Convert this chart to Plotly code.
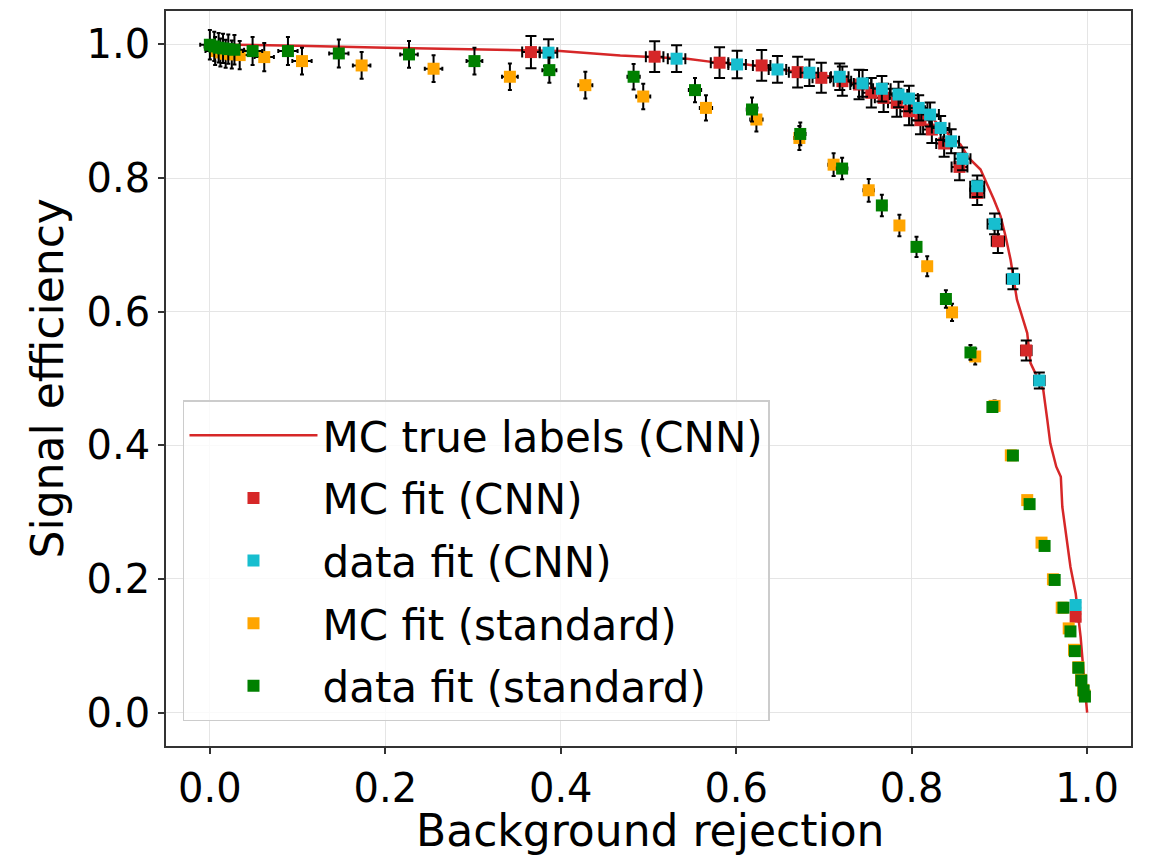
import plotly.graph_objects as go

# MC true labels (CNN) ROC curve
roc_x = [0.0, 0.034, 0.10, 0.2016, 0.308, 0.331, 0.3993, 0.4678, 0.544, 0.574, 0.612, 0.650,
         0.688, 0.707, 0.745, 0.783, 0.821, 0.840, 0.8557, 0.865, 0.8785, 0.883, 0.8937, 0.9013,
         0.907, 0.9127, 0.918, 0.920, 0.927, 0.9317, 0.9355, 0.950, 0.9546, 0.958, 0.9648, 0.970,
         0.9717, 0.9755, 0.981, 0.987, 0.9926, 0.997, 1.0]
roc_y = [1.0, 0.9995, 0.998, 0.995, 0.9925, 0.9915, 0.990, 0.9835, 0.9786, 0.9735, 0.970, 0.9625,
         0.955, 0.952, 0.9375, 0.9226, 0.8926, 0.8677, 0.850, 0.830, 0.8127, 0.800, 0.768, 0.743,
         0.713, 0.678, 0.638, 0.618, 0.588, 0.568, 0.523, 0.483, 0.438, 0.403, 0.368, 0.353,
         0.308, 0.268, 0.218, 0.178, 0.113, 0.043, 0.0]

# MC fit (CNN)
mc_cnn_x = [0.366, 0.507, 0.581, 0.629, 0.670, 0.697, 0.721, 0.740, 0.754, 0.768, 0.783, 0.797,
            0.810, 0.823, 0.837, 0.8545, 0.8747, 0.8983, 0.9306, 0.9869]
mc_cnn_y = [0.9885, 0.9816, 0.9726, 0.9685, 0.9585, 0.950, 0.945, 0.940, 0.9276, 0.920, 0.9126,
            0.900, 0.8866, 0.8726, 0.8517, 0.8167, 0.7778, 0.7054, 0.542, 0.1435]
mc_cnn_yerr = [0.024, 0.023, 0.023, 0.023, 0.023, 0.0225, 0.022, 0.022, 0.022, 0.021, 0.021, 0.021,
               0.021, 0.020, 0.020, 0.020, 0.018, 0.0175, 0.015, 0.004]
mc_cnn_xerr = [0.010, 0.010, 0.010, 0.010, 0.010, 0.010, 0.010, 0.010, 0.010, 0.010, 0.010, 0.010,
               0.010, 0.010, 0.009, 0.009, 0.008, 0.007, 0.006, 0.003]

# data fit (CNN)
data_cnn_x = [0.386, 0.532, 0.601, 0.647, 0.6834, 0.718, 0.744, 0.766, 0.785, 0.797, 0.808, 0.821,
              0.833, 0.845, 0.858, 0.8747, 0.8945, 0.9154, 0.9455, 0.9869]
data_cnn_y = [0.9876, 0.9786, 0.970, 0.9625, 0.9576, 0.9516, 0.9416, 0.9336, 0.925, 0.919, 0.905,
              0.895, 0.875, 0.855, 0.8288, 0.7877, 0.7314, 0.649, 0.497, 0.161]
data_cnn_yerr = [0.020, 0.020, 0.0205, 0.020, 0.020, 0.020, 0.020, 0.019, 0.019, 0.019, 0.019, 0.018,
                 0.018, 0.018, 0.017, 0.016, 0.0155, 0.0155, 0.012, 0.004]
data_cnn_xerr = [0.010, 0.010, 0.010, 0.010, 0.010, 0.010, 0.010, 0.010, 0.010, 0.010, 0.010, 0.010,
                 0.010, 0.009, 0.009, 0.008, 0.008, 0.007, 0.006, 0.003]

# MC fit (standard)
mc_std_x = [0.006, 0.012, 0.018, 0.025, 0.034, 0.062, 0.105, 0.173, 0.255, 0.342, 0.428, 0.494,
            0.5655, 0.623, 0.672, 0.711, 0.751, 0.786, 0.8177, 0.846, 0.8724, 0.8945, 0.913, 0.9317,
            0.948, 0.961, 0.971, 0.979, 0.985, 0.990, 0.993, 0.9955, 0.997]
mc_std_y = [0.990, 0.988, 0.986, 0.985, 0.984, 0.981, 0.975, 0.9685, 0.9636, 0.9516, 0.939, 0.922,
            0.905, 0.8876, 0.860, 0.820, 0.7817, 0.729, 0.668, 0.599, 0.533, 0.459, 0.385, 0.318,
            0.2544, 0.1995, 0.157, 0.126, 0.094, 0.068, 0.049, 0.034, 0.026]
mc_std_yerr = [0.021, 0.021, 0.021, 0.021, 0.021, 0.021, 0.020, 0.020, 0.020, 0.020, 0.020, 0.019,
               0.019, 0.018, 0.018, 0.017, 0.017, 0.016, 0.015, 0.013, 0.012, 0.008, 0.006, 0.005,
               0.004, 0.003, 0.003, 0.002, 0.002, 0.002, 0.002, 0.002, 0.002]
mc_std_xerr = [0.011, 0.011, 0.011, 0.011, 0.011, 0.011, 0.011, 0.010, 0.010, 0.009, 0.008, 0.008,
               0.007, 0.007, 0.006, 0.006, 0.006, 0.005, 0.005, 0.005, 0.004, 0.004, 0.004, 0.003,
               0.003, 0.003, 0.003, 0.002, 0.002, 0.002, 0.002, 0.002, 0.002]

# data fit (standard)
data_std_x = [0.0, 0.005, 0.010, 0.015, 0.021, 0.028, 0.0487, 0.089, 0.147, 0.227, 0.3016, 0.387,
              0.483, 0.553, 0.618, 0.673, 0.7207, 0.766, 0.8055, 0.839, 0.867, 0.892, 0.9154, 0.9344,
              0.9515, 0.963, 0.973, 0.981, 0.986, 0.990, 0.9934, 0.996, 0.9975]
data_std_y = [0.9995, 0.997, 0.995, 0.994, 0.993, 0.992, 0.990, 0.990, 0.9865, 0.985, 0.975, 0.9615,
              0.9516, 0.9316, 0.9026, 0.866, 0.8142, 0.759, 0.697, 0.619, 0.539, 0.4573, 0.3847, 0.312,
              0.2494, 0.1985, 0.157, 0.1215, 0.092, 0.067, 0.048, 0.033, 0.024]
data_std_yerr = [0.022, 0.022, 0.022, 0.022, 0.022, 0.022, 0.021, 0.021, 0.021, 0.020, 0.020, 0.019,
                 0.019, 0.018, 0.018, 0.017, 0.016, 0.016, 0.015, 0.013, 0.011, 0.007, 0.005, 0.004,
                 0.003, 0.003, 0.003, 0.002, 0.002, 0.002, 0.002, 0.002, 0.002]
data_std_xerr = [0.011, 0.011, 0.011, 0.011, 0.011, 0.011, 0.011, 0.011, 0.011, 0.010, 0.009, 0.008,
                 0.007, 0.007, 0.006, 0.006, 0.006, 0.005, 0.005, 0.005, 0.004, 0.004, 0.004, 0.003,
                 0.003, 0.003, 0.003, 0.002, 0.002, 0.002, 0.002, 0.002, 0.002]

X_TITLE = "Background rejection"
Y_TITLE = "Signal efficiency"

FONT = "DejaVu Sans"
fig = go.Figure()

fig.add_trace(go.Scatter(x=roc_x, y=roc_y, mode="lines", name="MC true labels (CNN)",
                         line=dict(color="#d62728", width=2.5), legendgroup="g0"))


def add_err(x, y, xerr, yerr, color, name, cap, grp):
    fig.add_trace(go.Scatter(
        x=x, y=y, mode="markers", name=name, legendgroup=grp,
        marker=dict(symbol="square", size=12, color=color, line=dict(width=0)),
        error_y=dict(type="data", array=yerr, visible=True, color="black", thickness=2, width=cap),
        error_x=dict(type="data", array=xerr, visible=True, color="black", thickness=2, width=cap),
    ))


add_err(mc_cnn_x, mc_cnn_y, mc_cnn_xerr, mc_cnn_yerr, "#d62728", "MC fit (CNN)", 5.5, "g1")
add_err(data_cnn_x, data_cnn_y, data_cnn_xerr, data_cnn_yerr, "#17becf", "data fit (CNN)", 5.5, "g2")
add_err(mc_std_x, mc_std_y, mc_std_xerr, mc_std_yerr, "orange", "MC fit (standard)", 2, "g3")
add_err(data_std_x, data_std_y, data_std_xerr, data_std_yerr, "green", "data fit (standard)", 2, "g4")

ticks = [0.0, 0.2, 0.4, 0.6, 0.8, 1.0]
tick_text = ["0.0", "0.2", "0.4", "0.6", "0.8", "1.0"]
axis_common = dict(
    tickvals=ticks, ticktext=tick_text, showgrid=True, gridcolor="#e5e5e5", gridwidth=1,
    zeroline=False, showline=True, mirror=True, linecolor="#333333", linewidth=1.6,
    ticks="outside", ticklen=6, tickwidth=1.5, tickcolor="#333333", automargin=False,
    tickfont=dict(family=FONT, size=40, color="black"),
)

fig.update_xaxes(range=[-0.05, 1.05], **axis_common)
fig.update_yaxes(range=[-0.05, 1.05], **axis_common)

fig.add_annotation(text=X_TITLE, xref="paper", yref="paper", x=0.502, y=-0.1143,
                   xanchor="center", yanchor="middle", showarrow=False,
                   font=dict(family=FONT, size=44, color="black"))
fig.add_annotation(text=Y_TITLE, xref="paper", yref="paper", x=-0.1223, y=0.5,
                   xanchor="center", yanchor="middle", showarrow=False, textangle=-90,
                   font=dict(family=FONT, size=44, color="black"))

fig.update_layout(
    width=1149, height=856,
    margin=dict(l=166, r=18, t=11, b=110, autoexpand=False),
    paper_bgcolor="white", plot_bgcolor="white",
    font=dict(family=FONT, color="black"),
    legend=dict(x=0.0176, y=0.4707, xanchor="left", yanchor="top",
                font=dict(family=FONT, size=42, color="black"),
                bgcolor="rgba(255,255,255,0.8)", bordercolor="#cccccc", borderwidth=1.5,
                traceorder="grouped", tracegroupgap=5, itemwidth=128),
)

fig.write_html("out.html")
